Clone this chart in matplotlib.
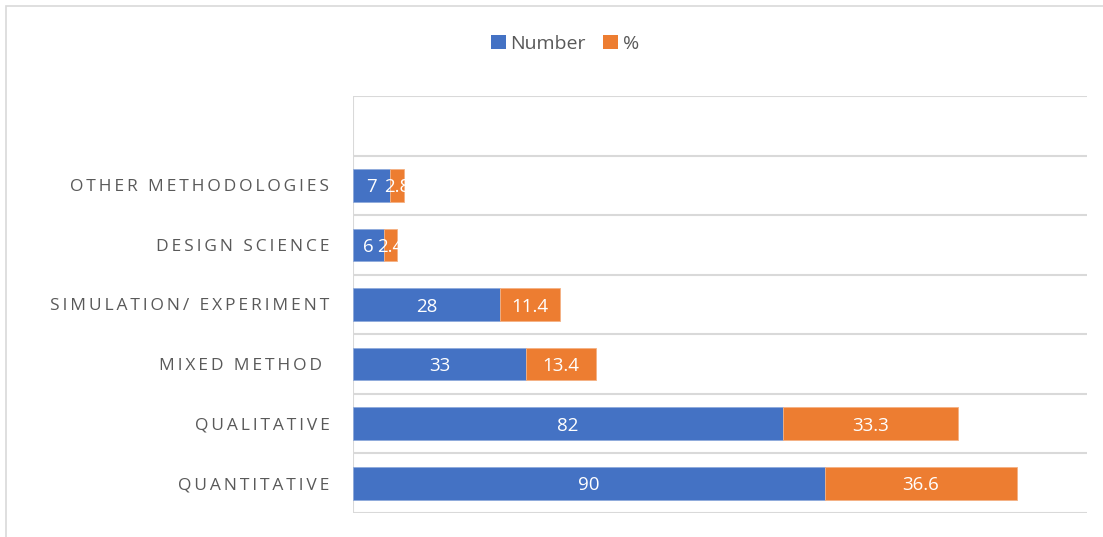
import matplotlib.pyplot as plt
from matplotlib.patches import Patch, Rectangle

categories = ["QUANTITATIVE", "QUALITATIVE", "MIXED METHOD ", "SIMULATION/ EXPERIMENT",
              "DESIGN SCIENCE", "OTHER METHODOLOGIES"]
number = [90, 82, 33, 28, 6, 7]
percent = [36.6, 33.3, 13.4, 11.4, 2.4, 2.8]
number_labels = ["90", "82", "33", "28", "6", "7"]
percent_labels = ["36.6", "33.3", "13.4", "11.4", "2.4", "2.8"]

BLUE = "#4472C4"
ORANGE = "#ED7D31"
GRID = "#D9D9D9"
TEXT = "#595959"
FONT = ["Open Sans", "DejaVu Sans"]


def tracked(s):
    # emulate Excel letter spacing with thin spaces
    return "\u2009".join(s)


fig = plt.figure(figsize=(11.03, 5.37), dpi=100)
fig.patch.set_facecolor("white")
fig.patches.append(Rectangle((6 / 1103, -0.1), 1.2, (537 - 6) / 537 + 0.1,
                             transform=fig.transFigure, fill=False,
                             edgecolor=GRID, linewidth=1.2))
ax = fig.add_axes([353 / 1103, 24 / 537, (1087 - 353) / 1103, (513 - 96) / 537])

y = list(range(len(categories)))
h = 0.55
ax.barh(y, number, height=h, color=BLUE, edgecolor="#8FAADC", linewidth=0.6, zorder=3)
ax.barh(y, percent, left=number, height=h, color=ORANGE, edgecolor="#F4B183",
        linewidth=0.6, zorder=3)

for i in y:
    ax.text(number[i] / 2, i, number_labels[i], ha="center", va="center_baseline",
            color="white", fontsize=13.5, family=FONT, zorder=4)
    ax.text(number[i] + percent[i] / 2, i, percent_labels[i], ha="center",
            va="center_baseline", color="white", fontsize=13.5, family=FONT, zorder=4,
            clip_on=False)

ax.set_xlim(0, 140)
ax.set_ylim(-0.5, len(categories) + 0.5)
for g in range(len(categories) + 2):
    ax.axhline(g - 0.5, color=GRID, linewidth=1.5, zorder=1)
ax.axvline(0, color=GRID, linewidth=1.5, zorder=2)

ax.set_yticks(y)
ax.set_yticklabels([tracked(c) for c in categories], family=FONT, fontsize=12.5,
                   color=TEXT)
ax.tick_params(axis="y", length=0, pad=17)
ax.set_xticks([])
for s in ax.spines.values():
    s.set_visible(False)

handles = [Patch(facecolor=BLUE, label="Number"), Patch(facecolor=ORANGE, label="%")]
fig.legend(handles=handles, loc="center", bbox_to_anchor=(565 / 1103, 1 - 44 / 537),
           ncol=2, frameon=False, handlelength=0.75, handleheight=0.75, handletextpad=0.25,
           columnspacing=0.9, prop={"family": FONT, "size": 14}, labelcolor=TEXT)

fig.savefig("out.png", dpi=100, facecolor="white")
